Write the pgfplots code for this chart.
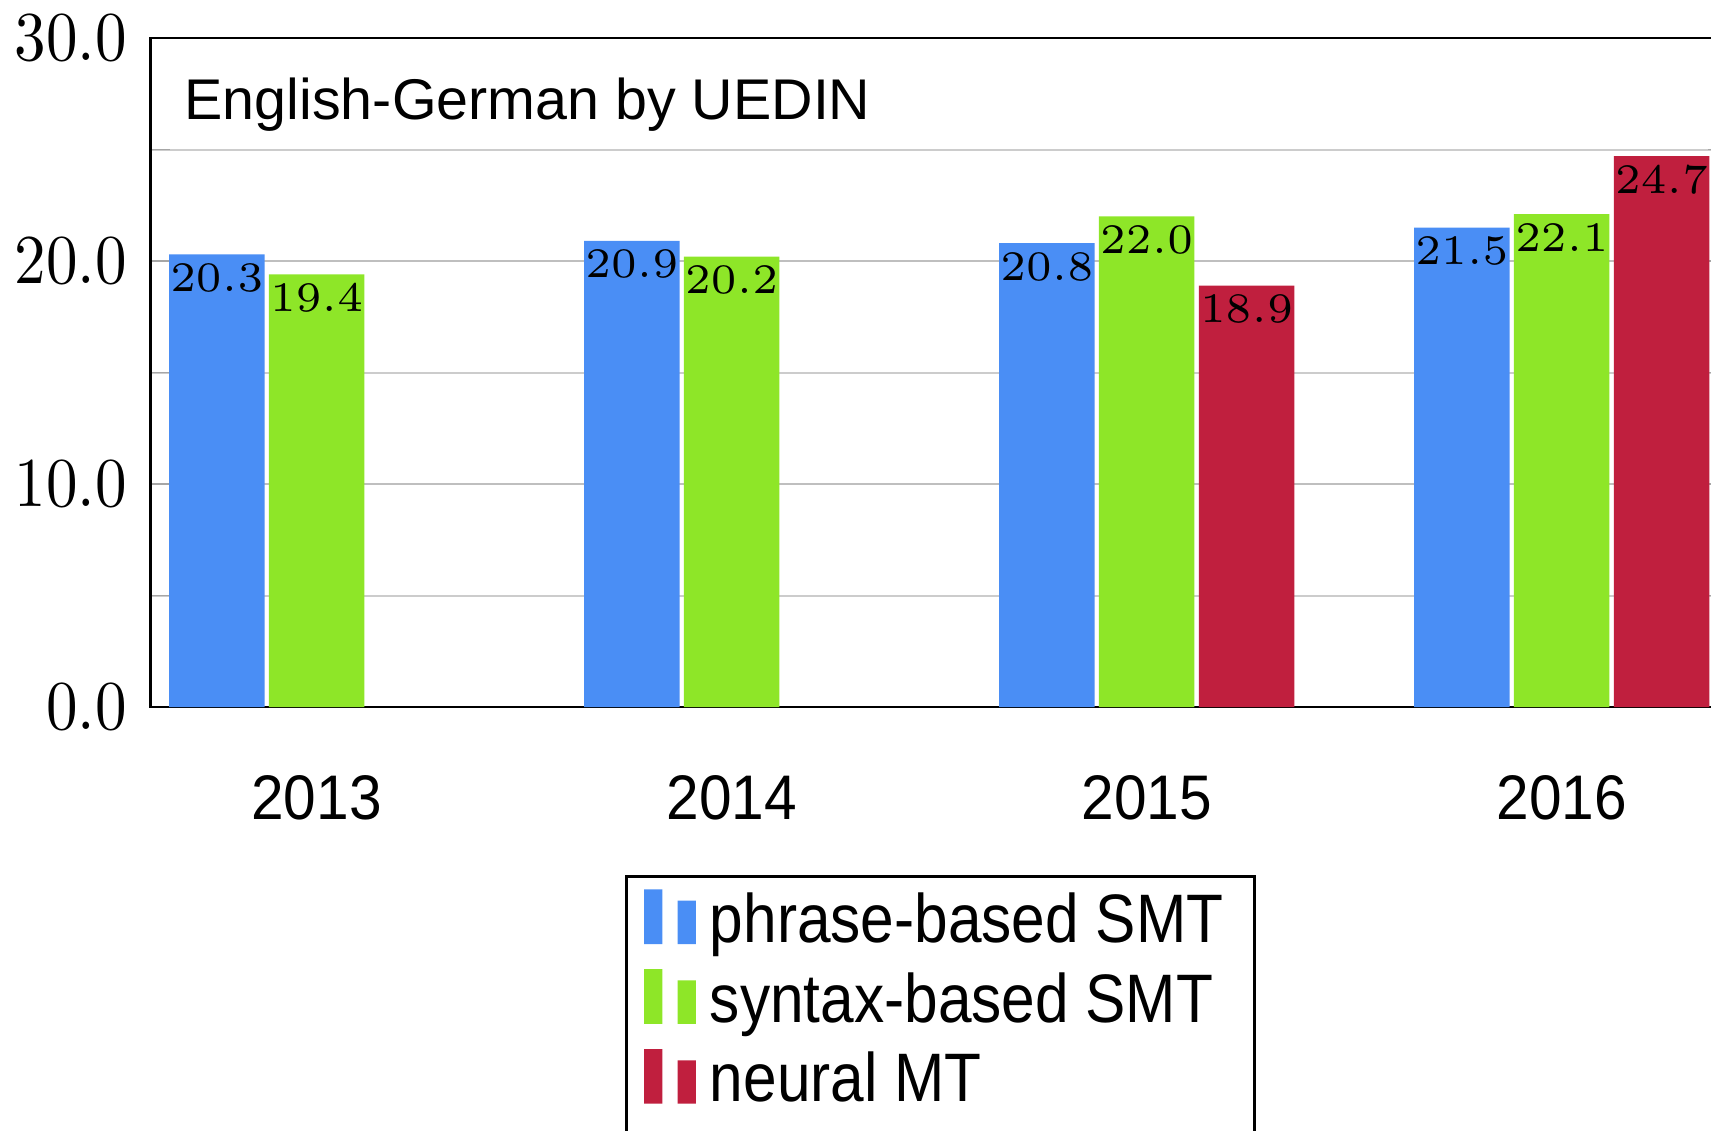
\documentclass[border=0pt]{standalone}
\usepackage{fontspec}
\usepackage{pgfplots}
\pgfplotsset{compat=1.18}
\newfontfamily\titlefont{Liberation Sans}
\newfontfamily\xfont[FakeStretch=0.93]{Liberation Sans}
\newfontfamily\legfont[FakeStretch=0.88]{Liberation Sans}
\newfontfamily\lmn[FakeStretch=0.9]{Latin Modern Roman}
\definecolor{cblue}{RGB}{74,142,245}
\definecolor{cgreen}{RGB}{142,230,40}
\definecolor{cred}{RGB}{192,31,62}
\begin{document}
\begin{tikzpicture}
\path[use as bounding box] (-21.51pt,-60.43pt) rectangle (222.9pt,101pt);
\clip (-21.51pt,-60.43pt) rectangle (222.9pt,101pt);
\begin{axis}[
  at={(0,0)}, anchor=south west,
  scale only axis, width=225.3pt, height=95.57pt,
  xmin=-0.4, xmax=3.4, ymin=0, ymax=30,
  ybar=0.62pt, bar width=13.64pt,
  xtick={0,1,2,3}, xticklabels={2013,2014,2015,2016},
  x tick style={draw=none},
  xticklabel style={font=\xfont\fontsize{9}{10}\selectfont, anchor=north, inner sep=0pt, yshift=-5.3pt},
  ytick={0,10,20,30}, minor ytick={5,15,25},
  ymajorgrids, yminorgrids,
  major grid style={gray!50, line width=0.35pt},
  minor grid style={gray!40, line width=0.3pt},
  y tick style={gray!70},
  yticklabel style={font=\lmn\fontsize{10}{12}\selectfont, inner sep=0pt, xshift=-3.2pt,
    /pgf/number format/.cd, fixed, fixed zerofill, precision=1, assume math mode=true},
  axis line style={black},
  nodes near coords={\pgfmathprintnumber[fixed,fixed zerofill,precision=1]{\pgfplotspointmeta}},
  every node near coord/.append style={anchor=north, font=\fontsize{6.4}{7.5}\selectfont, inner sep=0pt, yshift=-1.2pt, text=black},
  legend cell align=left,
  legend style={at={(0,0)}, anchor=north west, xshift=67.8pt, yshift=-24pt, draw=black,
    font=\legfont\fontsize{9.8}{11.5}\selectfont, inner xsep=2.5pt, inner ysep=1.2pt, row sep=0pt,
    nodes={inner ysep=0pt, text height=8.2pt, text depth=3.2pt}},
  legend image code/.code={\draw[#1,draw=none,/tikz/.cd,bar width=2.6pt,yshift=-2.75pt,bar shift=0pt]
      plot coordinates {(0cm,0.78em) (4.8pt,0.62em)};},
]
\addplot[fill=cblue, draw=none] coordinates {(0,20.3) (1,20.9) (2,20.8) (3,21.5)};
\addplot[fill=cgreen, draw=none] coordinates {(0,19.4) (1,20.2) (2,22.0) (3,22.1)};
\addplot[fill=cred, draw=none] coordinates {(2,18.9) (3,24.7)};
\legend{phrase-based SMT, syntax-based SMT, neural MT}
\node[anchor=base west, inner sep=0pt, xshift=4.67pt, yshift=-11.7pt, font=\titlefont\fontsize{8.2}{9}\selectfont] at (rel axis cs:0,1) {English-German by UEDIN};
\end{axis}
\end{tikzpicture}
\end{document}
